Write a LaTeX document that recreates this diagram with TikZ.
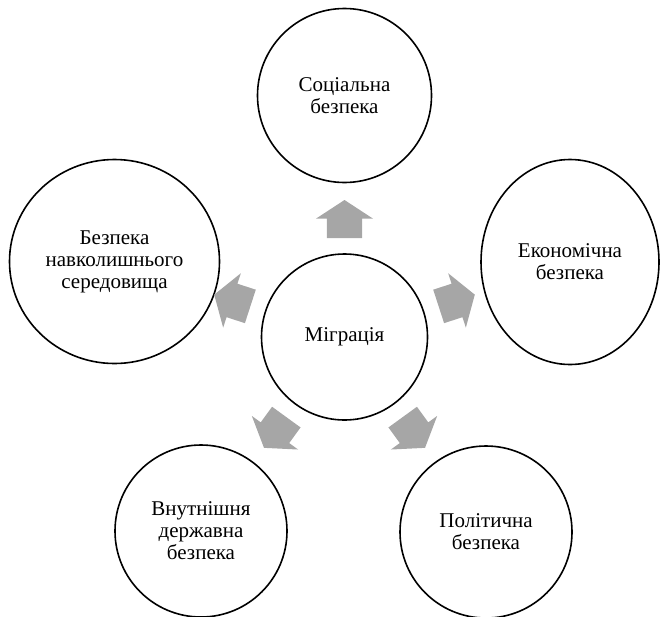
\documentclass[tikz,border=0pt]{standalone}
\usepackage{fontspec}
\setmainfont{Liberation Serif}
\usetikzlibrary{shapes.geometric}
\definecolor{arrowgray}{HTML}{A6A6A6}
\tikzset{
  bubble/.style={draw=black, line width=1.6pt, fill=white, align=center, inner sep=0pt,
    font=\fontsize{21}{22}\selectfont},
  roundbubble/.style={bubble, circle, minimum size=#1},
  ovalbubble/.style={bubble, ellipse, minimum width=#1},
  blockarrow/.style={fill=arrowgray, draw=none}
}
\begin{document}
\begin{tikzpicture}[x=1pt,y=-1pt]
\useasboundingbox (0,0) rectangle (660,616);
\node[roundbubble=166pt] (c) at (344.5,337) {Міграція};
\node[roundbubble=174pt] (soc) at (344.5,95.5) {Соціальна\\безпека};
\node[ovalbubble=178pt, minimum height=205pt] (eco) at (570,262) {Економічна\\безпека};
\node[roundbubble=172pt] (pol) at (486,532) {Політична\\безпека};
\node[roundbubble=172pt] (int) at (201,531) {Внутнішня\\державна\\безпека};
\node[ovalbubble=210pt, minimum height=204pt] (env) at (114.5,261.5) {Безпека\\навколишнього\\середовища};
\foreach \ang in {90,18,-54,-126,162}{
  \begin{scope}[shift={(c.center)}, rotate=\ang, x=1pt, y=1pt]
    \fill[blockarrow] (99,-17.6) -- (118.3,-17.6) -- (118.3,-28.6) -- (137,0)
      -- (118.3,28.6) -- (118.3,17.6) -- (99,17.6) -- cycle;
  \end{scope}
}
\end{tikzpicture}
\end{document}
